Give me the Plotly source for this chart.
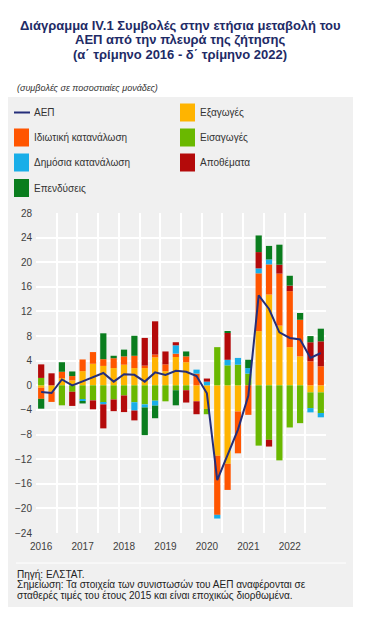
import plotly.graph_objects as go

# ---------------- data ----------------
years = ["2016", "2017", "2018", "2019", "2020", "2021", "2022"]
quarters = list(range(28))  # 2016Q1 ... 2022Q4

gdp = [-1.1, -1.25, 0.95, 0.0, 0.65, 1.35, 2.0, 0.6, 1.8, 1.7, 0.6, 2.1, 1.7, 2.35,
       2.2, 1.5, -1.3, -15.4, -11.2, -7.2, -1.7, 14.6, 12.4, 8.6, 7.7, 7.45, 4.45, 5.25]

exports = [-0.4, -1.0, 1.15, 0.8, 2.3, 3.5, 3.15, 2.8, 3.35, 2.8, 2.8, 4.55, 2.3, 4.6,
           3.75, -2.6, -3.85, -11.45, -12.75, -4.25, 0.0, 8.8, 14.75, 9.7, 6.2, 4.7, -1.15, -1.15]

imports = [1.2, 0.0, -3.25, -1.05, -2.3, -2.45, -2.8, -2.3, -1.65, -2.75, -3.1, -2.5, -2.6, -0.8,
           -0.8, 0.0, -0.85, 6.2, 3.25, 3.35, 1.9, -9.8, -8.85, -12.2, -6.85, -6.15, -2.55, -3.35]

private_cons = [-1.8, -1.7, 1.05, 0.7, 1.9, 1.9, 1.1, 1.6, 1.35, 2.0, 0.4, 0.45, 1.1, 0.55,
                0.95, 1.9, 0.0, -9.6, -4.25, -6.8, -4.8, 9.4, 4.9, 8.45, 9.1, 5.95, 3.9, 3.1]

public_cons = [0.0, 0.0, 0.0, 0.0, -0.25, 0.0, -0.3, 0.0, 0.0, -1.35, -0.5, -0.8, 0.0, 1.35,
               0.0, 0.65, 0.6, -0.6, 0.9, 1.1, 0.9, 0.8, 0.8, 0.0, 0.0, 0.0, -0.7, -0.7]

inventories = [2.2, 1.95, 0.0, -2.3, 0.0, -1.45, -3.9, -1.9, -2.7, -1.6, 4.5, 5.4, 2.1, 0.5,
               -2.0, -2.1, 0.5, 0.0, 4.35, 0.0, 0.0, 2.65, -1.1, 1.45, 0.9, 0.0, 3.1, 4.05]

investment = [-1.6, 0.0, 1.55, 0.75, -0.4, 0.0, 4.2, 0.4, 1.1, 3.25, -4.5, -2.05, 0.0, -2.45,
              0.8, 0.0, 0.0, 0.0, 0.3, 0.0, 1.35, 2.7, 2.2, 3.25, 1.6, 1.1, 1.0, 2.05]

y_ticks = [28, 24, 20, 16, 12, 8, 4, 0, -4, -8, -12, -16, -20, -24]

# ---------------- styling ----------------
FONT = "Liberation Sans, Arial, sans-serif"
BG = "#F0F0F0"
C_EXP = "#FFB400"
C_IMP = "#6AB800"
C_PRIV = "#FF5500"
C_PUB = "#19AEE8"
C_STK = "#B40A0A"
C_INV = "#0A7D1E"
C_GDP = "#252E7A"

OFF = 8  # page body margin
W, H = 353, 605
L, R, T, B = 28, 35, 205, 80
PW, PH = W - L - R, H - T - B


def px_x(x):
    """page x pixel -> paper coordinate"""
    return (x - OFF - L) / PW


def px_y(y):
    """page y pixel -> paper coordinate"""
    return (H - B - (y - OFF)) / PH


fig = go.Figure()

bar_series = [
    ("Εξαγωγές", exports, C_EXP),
    ("Εισαγωγές", imports, C_IMP),
    ("Ιδιωτική κατανάλωση", private_cons, C_PRIV),
    ("Δημόσια κατανάλωση", public_cons, C_PUB),
    ("Αποθέματα", inventories, C_STK),
    ("Επενδύσεις", investment, C_INV),
]
for name, vals, col in bar_series:
    fig.add_trace(go.Bar(x=quarters, y=vals, name=name, marker_color=col,
                         marker_line_width=0, showlegend=False))

fig.add_trace(go.Scatter(x=quarters, y=gdp, name="ΑΕΠ", mode="lines",
                         line=dict(color=C_GDP, width=2), showlegend=False))

# ---------------- layout ----------------
shapes = []
annotations = []

# grey panel
shapes.append(dict(type="rect", xref="paper", yref="paper", layer="below",
                   x0=px_x(7), x1=px_x(353), y0=px_y(607), y1=px_y(97),
                   fillcolor=BG, line_width=0))
# separator above notes
shapes.append(dict(type="line", xref="paper", yref="paper",
                   x0=px_x(16), x1=px_x(346), y0=px_y(563), y1=px_y(563),
                   line=dict(color="#FFFFFF", width=1)))

# titles
title_lines = ["Διάγραμμα IV.1 Συμβολές στην ετήσια μεταβολή του",
               "ΑΕΠ από την πλευρά της ζήτησης",
               "(α΄ τρίμηνο 2016 - δ΄ τρίμηνο 2022)"]
for i, t in enumerate(title_lines):
    annotations.append(dict(text="<b>" + t + "</b>", xref="paper", yref="paper",
                            x=px_x(180), y=px_y(25 + 14.5 * i),
                            xanchor="center", yanchor="middle", showarrow=False,
                            font=dict(family=FONT, size=13, color="#1E2B66")))
annotations.append(dict(text="<i>(συμβολές σε ποσοστιαίες μονάδες)</i>", xref="paper", yref="paper",
                        x=px_x(15), y=px_y(88), xanchor="left", yanchor="middle", showarrow=False,
                        font=dict(family=FONT, size=9, color="#333333")))

# legend (two columns)
legend_items = [
    ("ΑΕΠ", C_GDP, "line", 0, 0),
    ("Εξαγωγές", C_EXP, "rect", 1, 0),
    ("Ιδιωτική κατανάλωση", C_PRIV, "rect", 0, 1),
    ("Εισαγωγές", C_IMP, "rect", 1, 1),
    ("Δημόσια κατανάλωση", C_PUB, "rect", 0, 2),
    ("Αποθέματα", C_STK, "rect", 1, 2),
    ("Επενδύσεις", C_INV, "rect", 0, 3),
]
col_x = [14, 180]
row_y = [112.5, 137.5, 162.5, 188]
for name, col, kind, c, r in legend_items:
    x0 = col_x[c]
    yc = row_y[r]
    if kind == "line":
        shapes.append(dict(type="line", xref="paper", yref="paper",
                           x0=px_x(x0), x1=px_x(x0 + 16), y0=px_y(yc), y1=px_y(yc),
                           line=dict(color=col, width=2)))
    else:
        shapes.append(dict(type="rect", xref="paper", yref="paper",
                           x0=px_x(x0), x1=px_x(x0 + 15), y0=px_y(yc + 9), y1=px_y(yc - 9),
                           fillcolor=col, line_width=0))
    annotations.append(dict(text=name, xref="paper", yref="paper", x=px_x(x0 + 18), y=px_y(yc),
                            xanchor="left", yanchor="middle", showarrow=False,
                            font=dict(family=FONT, size=10, color="#333333")))

# notes
notes = ["Πηγή: ΕΛΣΤΑΤ.",
         "Σημείωση: Τα στοιχεία των συνιστωσών του ΑΕΠ αναφέρονται σε",
         "σταθερές τιμές του έτους 2015 και είναι εποχικώς διορθωμένα."]
for i, t in enumerate(notes):
    annotations.append(dict(text=t, xref="paper", yref="paper", x=px_x(15), y=px_y(574 + 10.5 * i),
                            xanchor="left", yanchor="middle", showarrow=False,
                            font=dict(family=FONT, size=10, color="#222222")))

axis_font = dict(family=FONT, size=10, color="#404040")

fig.update_layout(
    width=W, height=H,
    margin=dict(l=L, r=R, t=T, b=B, autoexpand=False),
    paper_bgcolor="#FFFFFF",
    plot_bgcolor=BG,
    barmode="relative",
    bargap=0.4,
    showlegend=False,
    shapes=shapes,
    annotations=annotations,
    xaxis=dict(
        range=[-0.5, 27.5],
        tickmode="array",
        tickvals=[0, 4, 8, 12, 16, 20, 24],
        ticktext=years,
        showgrid=False,
        zeroline=False,
        showline=False,
        ticks="",
        ticklabelstandoff=6,
        tickfont=axis_font,
        minor=dict(tick0=-0.5, dtick=2, showgrid=True, gridcolor="#FFFFFF", gridwidth=1.5, ticks=""),
    ),
    yaxis=dict(
        range=[-24, 28],
        tickmode="array",
        tickvals=y_ticks,
        showgrid=True,
        gridcolor="#FFFFFF",
        gridwidth=1.5,
        zeroline=False,
        showline=False,
        ticks="",
        ticklabelstandoff=3,
        tickfont=axis_font,
    ),
    yaxis2=dict(
        range=[-24, 28],
        overlaying="y",
        side="right",
        matches="y",
        tickmode="array",
        tickvals=y_ticks,
        showgrid=False,
        zeroline=False,
        showline=False,
        ticks="",
        ticklabelstandoff=3,
        tickfont=axis_font,
    ),
)

fig.write_html("out.html")
